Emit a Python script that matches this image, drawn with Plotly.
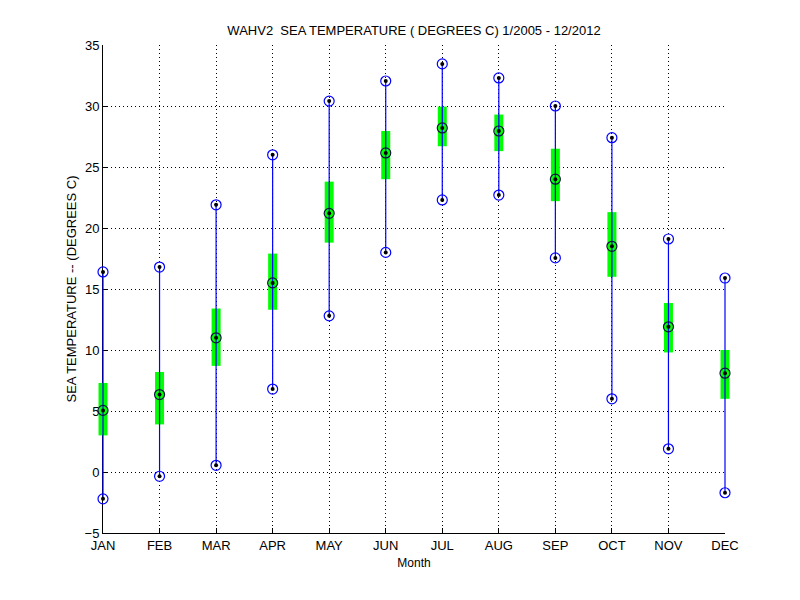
import plotly.graph_objects as go

months = ["JAN", "FEB", "MAR", "APR", "MAY", "JUN", "JUL", "AUG", "SEP", "OCT", "NOV", "DEC"]
month_pos = [1, 2, 3, 4, 5, 6, 7, 8, 9, 10, 11, 12]
t_max = [16.4, 16.8, 21.9, 26.0, 30.4, 32.05, 33.45, 32.3, 30.0, 27.4, 19.1, 15.9]
t_min = [-2.2, -0.35, 0.55, 6.8, 12.8, 18.0, 22.3, 22.7, 17.55, 6.0, 1.9, -1.7]
t_mean = [5.05, 6.35, 11.0, 15.5, 21.2, 26.15, 28.2, 27.95, 24.0, 18.5, 11.9, 8.1]
box_low = [3.0, 3.9, 8.7, 13.3, 18.8, 24.0, 26.7, 26.3, 22.2, 16.0, 9.8, 6.0]
box_high = [7.3, 8.2, 13.4, 17.9, 23.8, 27.95, 29.95, 29.3, 26.5, 21.3, 13.85, 10.0]
y_ticks = [-5, 0, 5, 10, 15, 20, 25, 30, 35]
y_range = [-5, 35]

FONT = "Liberation Sans, Arial, sans-serif"

# layout geometry: visible axes box is 622 px wide; the data layer (x2/y2)
# is widened by PAD px on each side so marks at JAN/DEC are not clipped
W, H = 800, 600
PAD = 10
ML, MR = 103 - PAD, 75 - PAD
plot_w = W - ML - MR
axis_w = plot_w - 2 * PAD
x0, x1 = month_pos[0], month_pos[-1]
per_px = (x1 - x0) / axis_w
x2_range = [x0 - PAD * per_px, x1 + PAD * per_px]
main_domain = [PAD / plot_w, 1 - PAD / plot_w]

fig = go.Figure()

# invisible trace on the main axes so that the visible axes/grid get drawn
fig.add_trace(go.Scatter(x=month_pos, y=t_mean, mode="markers",
                         marker=dict(size=1, opacity=0), hoverinfo="skip"))

# green boxes
fig.add_trace(go.Scatter(
    x=month_pos, y=box_low, mode="markers", xaxis="x2", yaxis="y2",
    marker=dict(size=1, opacity=0),
    error_y=dict(type="data", symmetric=False,
                 array=[h - l for h, l in zip(box_high, box_low)],
                 arrayminus=[0] * len(box_low),
                 color="#00ff00", thickness=9, width=0),
    cliponaxis=False, hoverinfo="skip"))

# blue range lines
fig.add_trace(go.Scatter(
    x=month_pos, y=t_min, mode="markers", xaxis="x2", yaxis="y2",
    marker=dict(size=1, opacity=0),
    error_y=dict(type="data", symmetric=False,
                 array=[h - l for h, l in zip(t_max, t_min)],
                 arrayminus=[0] * len(t_min),
                 color="#0000ff", thickness=1.2, width=0),
    cliponaxis=False, hoverinfo="skip"))

# extreme markers (blue open circle)
ex = month_pos + month_pos
ey = t_max + t_min
fig.add_trace(go.Scatter(x=ex, y=ey, mode="markers", xaxis="x2", yaxis="y2",
                         marker=dict(symbol="circle-open", size=10, color="#0000ff",
                                     line=dict(width=1.2, color="#0000ff")),
                         cliponaxis=False))
# mean markers (dark open circle)
fig.add_trace(go.Scatter(x=month_pos, y=t_mean, mode="markers", xaxis="x2", yaxis="y2",
                         marker=dict(symbol="circle-open", size=10, color="#101040",
                                     line=dict(width=1.2, color="#101040")),
                         cliponaxis=False))
# centre dots
fig.add_trace(go.Scatter(x=ex + month_pos, y=ey + t_mean, mode="markers",
                         xaxis="x2", yaxis="y2",
                         marker=dict(symbol="circle", size=4, color="black"),
                         cliponaxis=False))

fig.update_layout(
    width=W, height=H,
    paper_bgcolor="white", plot_bgcolor="rgba(0,0,0,0)",
    margin=dict(l=ML, r=MR, t=45, b=67),
    showlegend=False,
    font=dict(family=FONT, size=13, color="black"),
    title=dict(text="WAHV2  SEA TEMPERATURE ( DEGREES C) 1/2005 - 12/2012",
               x=0.5175, xanchor="center", y=0.95, yanchor="middle",
               font=dict(family=FONT, size=13, color="black")),
    xaxis=dict(
        domain=main_domain,
        range=[x0, x1], tickvals=month_pos, ticktext=months,
        showline=True, linecolor="black", linewidth=1,
        ticks="inside", ticklen=5, tickcolor="black",
        showgrid=True, gridcolor="black", griddash="1px,3px", gridwidth=1,
        zeroline=False, automargin=False,
        title=dict(text="Month", font=dict(family=FONT, size=12), standoff=7),
        tickfont=dict(family=FONT, size=13),
    ),
    yaxis=dict(
        range=y_range, tickvals=y_ticks, anchor="x",
        showline=True, linecolor="black", linewidth=1,
        ticks="inside", ticklen=5, tickcolor="black",
        showgrid=True, gridcolor="black", griddash="1px,3px", gridwidth=1,
        zeroline=False, automargin=False,
        title=dict(text="SEA TEMPERATURE -- (DEGREES C)", font=dict(family=FONT, size=13), standoff=5),
        tickfont=dict(family=FONT, size=13),
    ),
    xaxis2=dict(
        domain=[0, 1], range=x2_range, anchor="y2",
        visible=False, showgrid=False, zeroline=False, automargin=False,
    ),
    yaxis2=dict(
        domain=[0, 1], range=y_range, anchor="x2",
        visible=False, showgrid=False, zeroline=False, automargin=False,
    ),
)

fig.write_html("out.html", config={"displayModeBar": False},
               post_script="document.body.style.margin='0';")
